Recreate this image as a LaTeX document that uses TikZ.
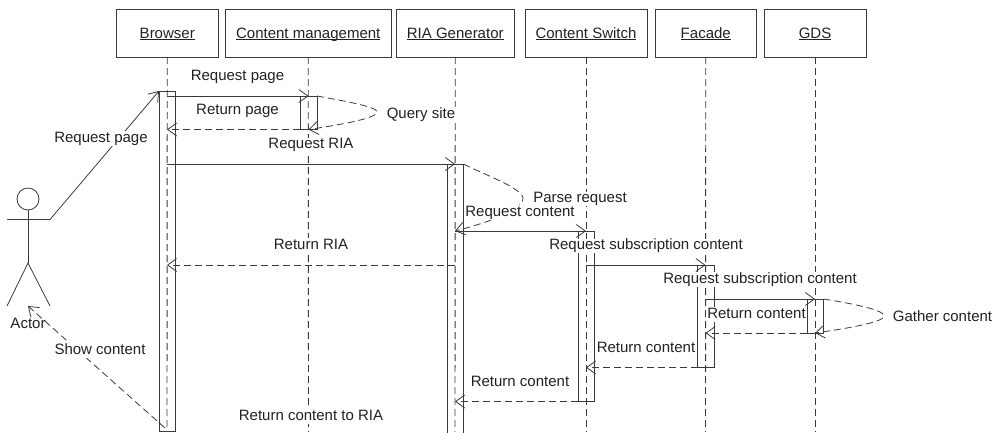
\documentclass[tikz,border=0pt]{standalone}
\usepackage{fontspec}
\setmainfont{Liberation Sans}
\usetikzlibrary{arrows.meta}
\definecolor{ln}{HTML}{3A3A3A}
\definecolor{tx}{HTML}{222222}
\newcommand{\headul}[1]{\underline{\smash{#1}}}
\tikzset{
  every node/.style={font=\fontsize{15}{17}\selectfont, text=tx},
  headbox/.style={draw=ln, line width=1pt, minimum height=47.5pt, inner sep=0pt},
  headtext/.style={text height=10.5pt, text depth=3pt, inner sep=0pt, yshift=-1pt},
  life/.style={draw=ln, line width=0.9pt, dash pattern=on 7pt off 4pt},
  bar/.style={draw=ln, line width=1pt},
  msg/.style={draw=ln, line width=1pt, -{Straight Barb[length=9pt,width=13pt,line width=0.8pt]}},
  ret/.style={msg, dash pattern=on 7pt off 4pt},
  lbl/.style={fill=white, inner xsep=1pt, inner ysep=0.5pt, text height=10.5pt, text depth=3pt, yshift=-1.6pt},
  fig/.style={draw=ln, line width=0.8pt}
}
\begin{document}
\begin{tikzpicture}[x=1pt,y=-1pt]
\useasboundingbox (0,0) rectangle (995,432);
% heads
\node[headbox, minimum width=101.5pt] (browser) at (167.25,33.25) {};
\node[headbox, minimum width=165.5pt] (cm) at (308.25,33.25) {};
\node[headbox, minimum width=118.5pt] (ria) at (455.25,33.25) {};
\node[headbox, minimum width=122pt] (cs) at (586,33.25) {};
\node[headbox, minimum width=101.5pt] (fac) at (705.75,33.25) {};
\node[headbox, minimum width=102pt] (gds) at (815,33.25) {};
\node[headtext] (tbrowser) at (browser.center) {\headul{Browser}};
\node[headtext] (tcm) at (cm.center) {\headul{Content management}};
\node[headtext] (tria) at (ria.center) {\headul{RIA Generator}};
\node[headtext] (tcs) at (cs.center) {\headul{Content Switch}};
\node[headtext] (tfac) at (fac.center) {\headul{Facade}};
\node[headtext] (tgds) at (gds.center) {\headul{GDS}};
% lifeline ends
\coordinate (be) at (167,432);
\coordinate (ce) at (308.5,432);
\coordinate (re) at (455,432);
\coordinate (se) at (586,432);
\coordinate (fe) at (705.5,432);
\coordinate (ge) at (815,432);
\draw[life] (browser.south |- 0,57) -- (be);
\draw[life] (cm.south |- 0,57) -- (ce);
\draw[life] (ria.south |- 0,57) -- (re);
\draw[life] (cs.south |- 0,57) -- (se);
\draw[life] (fac.south |- 0,57) -- (fe);
\draw[life] (gds.south |- 0,57) -- (ge);
% activations
\draw[bar] (159,91) rectangle (175.5,431);
\draw[bar] (300,96) rectangle (317,129.5);
\draw[bar] (447,164) -- (447,433);
\draw[bar] (447,164) -- (463.5,164) -- (463.5,433);
\draw[bar] (578,231) rectangle (594.5,401.5);
\draw[bar] (697.5,265) rectangle (714.5,367.5);
\draw[bar] (807,299) rectangle (823.5,333);
% actor
\node[draw=ln, line width=0.8pt, circle, minimum size=22pt, inner sep=0pt] (head) at (28,199) {};
\coordinate (hip) at (28,263);
\coordinate (armL) at (7,219.5);
\coordinate (armR) at (50,219.5);
\coordinate (legL) at (7,306);
\coordinate (legR) at (50,306);
\node[yshift=-1.6pt] (actor) at (28,322) {Actor};
\draw[fig] (head.south) -- (hip);
\draw[fig] (armL) -- (armR);
\draw[fig] (legL) -- (hip) -- (legR);
% named message ends
\coordinate (bTop) at (159,91);
\coordinate (bBot) at (165,428);
\coordinate (actFoot) at (28,306);
\draw[msg, line width=0.8pt] (armR) -- (bTop);
\draw[ret, line width=0.8pt] (bBot) -- (actFoot);
\draw[msg] (167,96) -- (308.5,96);
\draw[ret] (300,129.5) -- (167,129.5);
\draw[msg] (167,164) -- (455,164);
\draw[ret] (455,265) -- (167,265);
\draw[msg] (455,231) -- (586,231);
\draw[ret] (578,401.5) -- (455,401.5);
\draw[msg] (586,265) -- (705.5,265);
\draw[msg] (705.5,299) -- (815,299);
\draw[ret] (807,333) -- (705.5,333);
\draw[ret] (697.5,367.5) -- (586,367.5);
% self messages
\draw[ret, line width=0.8pt] (317,96) .. controls (350,102) and (377,107) .. (377,112) .. controls (377,118) and (345,124) .. (308.5,129.5);
\draw[ret, line width=0.8pt] (463.5,164) .. controls (485,175) and (522,188) .. (523,198) .. controls (523,210) and (490,222) .. (455,231);
\draw[ret, line width=0.8pt] (823.5,299) .. controls (855,304) and (884,310) .. (884,316) .. controls (884,322) and (850,328) .. (815,333);
% labels
\node[lbl] (l1) at (237.5,75.5) {Request page};
\node[lbl] (l2) at (237.5,109.5) {Return page};
\node[lbl] (l3) at (421,113) {Query site};
\node[lbl] (l4) at (311,143.5) {Request RIA};
\node[lbl] (l5) at (101,137) {Request page};
\node[lbl] (l6) at (311,244) {Return RIA};
\node[lbl] (l7) at (100,349) {Show content};
\node[lbl] (l8) at (311,415) {Return content to RIA};
\node[lbl] (l9) at (580,197.5) {Parse request};
\node[lbl] (l10) at (520,211) {Request content};
\node[lbl] (l11) at (646,244.5) {Request subscription content};
\node[lbl] (l12) at (760,278) {Request subscription content};
\node[lbl] (l13) at (756.5,313) {Return content};
\node[lbl] (l14) at (646,347) {Return content};
\node[lbl] (l15) at (520,381) {Return content};
\node[lbl] (l16) at (942.5,316) {Gather content};
\end{tikzpicture}
\end{document}
